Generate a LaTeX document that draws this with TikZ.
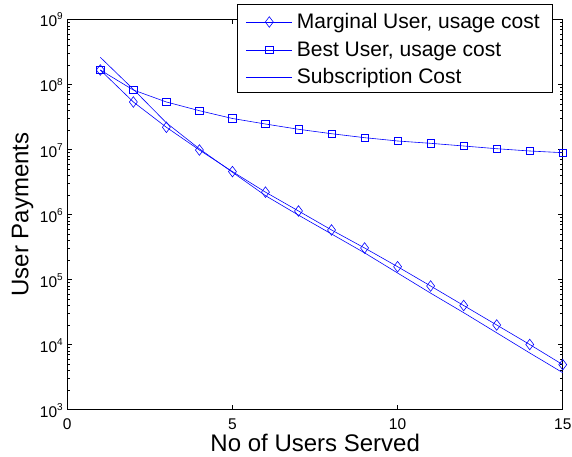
\documentclass[tikz,border=0pt]{standalone}
\usepackage{fontspec}
\setmainfont{Liberation Sans}
\usetikzlibrary{plotmarks}
\begin{document}
\begin{tikzpicture}[x=1pt,y=1pt,
  series/.style={blue,line width=0.6pt},
  marg/.style={series,mark=diamond,mark size=5.3pt},
  best/.style={series,mark=square,mark size=3.7pt},
  ticklab/.style={inner sep=0pt,font=\fontsize{15.5}{18}\selectfont},
  axlab/.style={inner sep=0pt,font=\fontsize{24}{28}\selectfont},
  leglab/.style={inner sep=0pt,anchor=base west,font=\fontsize{21}{25}\selectfont}]
\useasboundingbox (0,0) rectangle (572,456);
\draw[line width=0.8pt] (67.3,46.5) rectangle (562.7,436.5);
% data part: x = users, y = log10(payment)
\begin{scope}[shift={(67.3,-148.5)},x=33.03pt,y=65pt]
\foreach \d in {3,...,8}{
  \foreach \k in {2,...,9}{
    \draw (0,{\d+log10(\k)}) -- ++(3pt,0);
    \draw (15,{\d+log10(\k)}) -- ++(-3pt,0);
  }
}
\foreach \d in {4,...,8}{
  \draw (0,\d) -- ++(5pt,0);
  \draw (15,\d) -- ++(-5pt,0);
}
\foreach \n in {5,10}{
  \draw (\n,3) -- ++(0,4.5pt);
  \draw (\n,9) -- ++(0,-4.5pt);
}
\foreach \d in {3,...,9}
  \node[ticklab,anchor=base east,xshift=-4.3pt,yshift=-7.5pt] (ylab\d) at (0,\d) {10\raisebox{7pt}{\fontsize{10}{10}\selectfont\d}};
\foreach \n in {0,5,10,15}
  \node[ticklab,anchor=base,yshift=-19.5pt] (xlab\n) at (\n,3) {\n};
\draw[series] plot coordinates {(1,8.418) (2,7.926) (3,7.41) (4,7.01) (5,6.65) (6,6.29) (7,5.99) (8,5.70) (9,5.41) (10,5.10) (11,4.79) (12,4.49) (13,4.18) (14,3.87) (15,3.566)};
\draw[best] plot coordinates {(1,8.223) (2,7.915) (3,7.731) (4,7.597) (5,7.477) (6,7.392) (7,7.311) (8,7.243) (9,7.182) (10,7.131) (11,7.095) (12,7.054) (13,7.012) (14,6.977) (15,6.951)};
\draw[marg] plot coordinates {(1,8.223) (2,7.731) (3,7.342) (4,6.992) (5,6.66) (6,6.344) (7,6.054) (8,5.762) (9,5.485) (10,5.197) (11,4.90) (12,4.60) (13,4.30) (14,4.00) (15,3.69)};
\end{scope}
% axis titles
\node[axlab,anchor=base] (xtitle) at (315.2,4.5) {No of Users Served};
\node[axlab,anchor=base,rotate=90] (ytitle) at (28.3,241.5) {User Payments};
% legend
\draw[fill=white,line width=0.8pt] (237.3,363.3) rectangle (552.7,451.7);
\draw[series] (246,434) -- (291.7,434);
\draw[marg] plot coordinates {(269.3,434)};
\node[leglab] (legmarg) at (296.7,427.7) {Marginal User, usage cost};
\draw[series] (246,406) -- (291.7,406);
\draw[best] plot coordinates {(269.3,406)};
\node[leglab] (legbest) at (296.7,399.5) {Best User, usage cost};
\draw[series] (246,378.7) -- (291.7,378.7);
\node[leglab] (legsub) at (296.7,372.2) {Subscription Cost};
\end{tikzpicture}
\end{document}
